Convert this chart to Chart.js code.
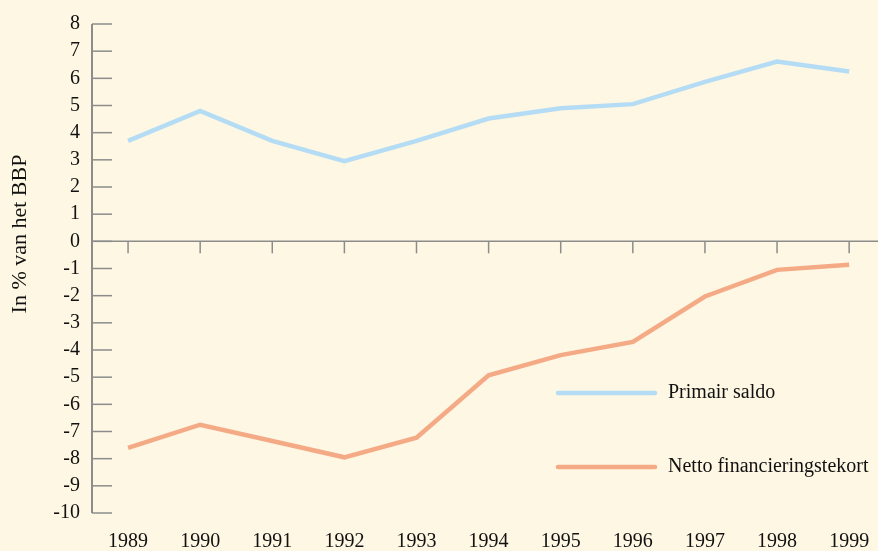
<!DOCTYPE html>
<html lang="nl">
<head>
    <meta charset="UTF-8">
    <title>Primair saldo en netto financieringstekort</title>
    <script src="https://cdn.jsdelivr.net/npm/chart.js"></script>
    <style>
        html, body { margin: 0; padding: 0; background: #fef7e3; }
        .chart-box { width: 878px; height: 551px; position: relative; }
    </style>
</head>
<body>
    <div class="chart-box">
        <canvas id="lineChart"></canvas>
    </div>

    <script>
        // data (in % van het BBP)
        const years = [1989, 1990, 1991, 1992, 1993, 1994, 1995, 1996, 1997, 1998, 1999];
        const primairSaldo = [3.7, 4.8, 3.7, 2.95, 3.7, 4.52, 4.9, 5.05, 5.87, 6.62, 6.25];
        const nettoTekort = [-7.6, -6.75, -7.35, -7.95, -7.23, -4.93, -4.19, -3.7, -2.03, -1.05, -0.86];
        const yTicks = [8, 7, 6, 5, 4, 3, 2, 1, 0, -1, -2, -3, -4, -5, -6, -7, -8, -9, -10];

        const seriesNames = ['Primair saldo', 'Netto financieringstekort'];
        const blue = '#b5dcf5';
        const orange = '#f5aa86';
        const axisGrey = '#8c8c8c';
        const serif = '"Liberation Serif", "DejaVu Serif", serif';

        const toPoints = (vals) => years.map((y, i) => ({ x: y, y: vals[i] }));

        // axes drawn the way the print does: ticks pointing into the plot
        const axesPlugin = {
            id: 'printAxes',
            afterDatasetsDraw(chart) {
                const { ctx, chartArea, scales } = chart;
                const xs = scales.x, ys = scales.y;
                ctx.save();
                ctx.strokeStyle = axisGrey;

                // y axis line
                ctx.lineWidth = 2;
                ctx.beginPath();
                ctx.moveTo(chartArea.left, ys.getPixelForValue(8));
                ctx.lineTo(chartArea.left, ys.getPixelForValue(-10));
                ctx.stroke();

                // y ticks
                ctx.lineWidth = 1.5;
                yTicks.forEach(v => {
                    const py = ys.getPixelForValue(v);
                    ctx.beginPath();
                    ctx.moveTo(chartArea.left, py);
                    ctx.lineTo(chartArea.left + 20, py);
                    ctx.stroke();
                });

                // x axis at zero
                const y0 = ys.getPixelForValue(0);
                ctx.lineWidth = 1.5;
                ctx.beginPath();
                ctx.moveTo(chartArea.left, y0);
                ctx.lineTo(chartArea.right, y0);
                ctx.stroke();
                years.forEach(yr => {
                    const px = xs.getPixelForValue(yr);
                    ctx.beginPath();
                    ctx.moveTo(px, y0);
                    ctx.lineTo(px, y0 + 12);
                    ctx.stroke();
                });

                // axis title
                ctx.fillStyle = '#111';
                ctx.font = '22px ' + serif;
                ctx.textAlign = 'center';
                ctx.textBaseline = 'middle';
                ctx.translate(20, 234);
                ctx.rotate(-Math.PI / 2);
                ctx.fillText('In % van het BBP', 0, 0);
                ctx.restore();

                // legend inside the plot
                ctx.save();
                chart.data.datasets.forEach((ds, i) => {
                    const ly = 393 + i * 74;
                    ctx.strokeStyle = ds.borderColor;
                    ctx.lineWidth = 4.5;
                    ctx.lineCap = 'round';
                    ctx.beginPath();
                    ctx.moveTo(558, ly);
                    ctx.lineTo(655, ly);
                    ctx.stroke();
                    ctx.fillStyle = '#111';
                    ctx.font = '20px ' + serif;
                    ctx.textAlign = 'left';
                    ctx.textBaseline = 'middle';
                    ctx.fillText(ds.label, 668, ly);
                });
                ctx.restore();
            }
        };

        const ctxLine = document.getElementById('lineChart').getContext('2d');
        const lineChart = new Chart(ctxLine, {
            type: 'line',
            data: {
                datasets: [
                    {
                        label: seriesNames[0],
                        data: toPoints(primairSaldo),
                        borderColor: blue,
                        borderWidth: 4.5,
                        pointRadius: 0,
                        tension: 0,
                        fill: false
                    },
                    {
                        label: seriesNames[1],
                        data: toPoints(nettoTekort),
                        borderColor: orange,
                        borderWidth: 4.5,
                        pointRadius: 0,
                        tension: 0,
                        fill: false
                    }
                ]
            },
            options: {
                responsive: true,
                maintainAspectRatio: false,
                animation: false,
                layout: { padding: { top: 23, right: 0, bottom: 0, left: 0 } },
                plugins: {
                    legend: { display: false },
                    tooltip: { enabled: false }
                },
                scales: {
                    x: {
                        type: 'linear',
                        min: 1988.5,
                        max: 1999.4,
                        afterFit: (s) => { s.height = 38; s.paddingLeft = 0; s.paddingRight = 0; },
                        grid: { display: false, drawTicks: false },
                        border: { display: false },
                        ticks: {
                            stepSize: 1,
                            includeBounds: false,
                            padding: 17,
                            color: '#111',
                            font: { family: serif, size: 20 },
                            maxRotation: 0,
                            callback: (v) => String(v)
                        }
                    },
                    y: {
                        min: -10,
                        max: 8,
                        afterFit: (s) => { s.width = 92; },
                        grid: { display: false, drawTicks: false },
                        border: { display: false },
                        ticks: {
                            stepSize: 1,
                            padding: 12,
                            color: '#111',
                            font: { family: serif, size: 20 }
                        }
                    }
                }
            },
            plugins: [axesPlugin]
        });
    </script>
</body>
</html>
